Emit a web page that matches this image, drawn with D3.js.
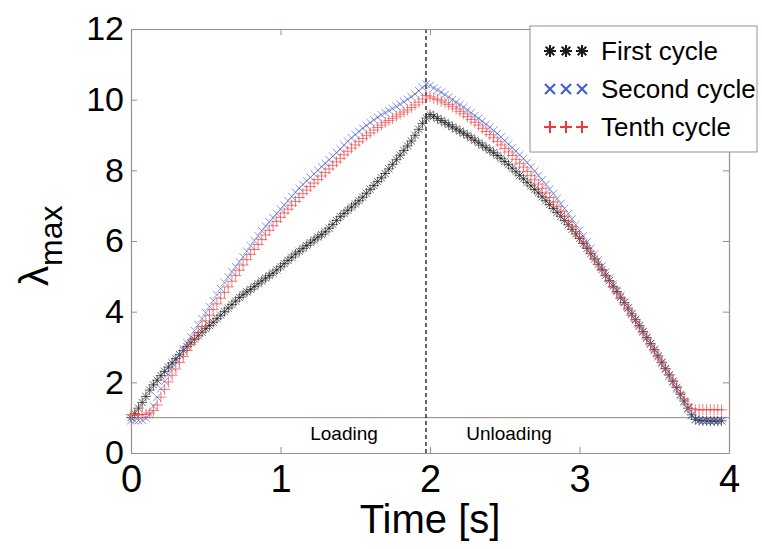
<!DOCTYPE html>
<html>
<head>
<meta charset="utf-8">
<script src="https://cdn.jsdelivr.net/npm/d3@7"></script>
<style>
  html, body { margin: 0; padding: 0; background: #fff; }
  svg { display: block; font-family: "Liberation Sans", Arial, sans-serif; }
</style>
</head>
<body>
<svg id="chart" width="762" height="549"></svg>
<script>
// ---------------- data ----------------
const times = [
  0,0.025,0.05,0.075,0.1,0.125,0.15,0.175,0.2,0.225,
  0.25,0.275,0.3,0.325,0.35,0.375,0.4,0.425,0.45,0.475,
  0.5,0.525,0.55,0.575,0.6,0.625,0.65,0.675,0.7,0.725,
  0.75,0.775,0.8,0.825,0.85,0.875,0.9,0.925,0.95,0.975,
  1,1.025,1.05,1.075,1.1,1.125,1.15,1.175,1.2,1.225,
  1.25,1.275,1.3,1.325,1.35,1.375,1.4,1.425,1.45,1.475,
  1.5,1.525,1.55,1.575,1.6,1.625,1.65,1.675,1.7,1.725,
  1.75,1.775,1.8,1.825,1.85,1.875,1.9,1.925,1.95,1.975,
  2,2.025,2.05,2.075,2.1,2.125,2.15,2.175,2.2,2.225,
  2.25,2.275,2.3,2.325,2.35,2.375,2.4,2.425,2.45,2.475,
  2.5,2.525,2.55,2.575,2.6,2.625,2.65,2.675,2.7,2.725,
  2.75,2.775,2.8,2.825,2.85,2.875,2.9,2.925,2.95,2.975,
  3,3.025,3.05,3.075,3.1,3.125,3.15,3.175,3.2,3.225,
  3.25,3.275,3.3,3.325,3.35,3.375,3.4,3.425,3.45,3.475,
  3.5,3.525,3.55,3.575,3.6,3.625,3.65,3.675,3.7,3.725,
  3.75,3.775,3.8,3.825,3.85,3.875,3.9,3.925,3.95
];
const firstCycle = [
  1.00,1.12,1.27,1.43,1.60,1.78,1.93,2.06,2.19,2.31,
  2.43,2.55,2.67,2.78,2.90,3.01,3.12,3.22,3.32,3.42,
  3.52,3.61,3.70,3.80,3.90,4.00,4.10,4.20,4.30,4.40,
  4.48,4.56,4.63,4.71,4.79,4.87,4.95,5.02,5.09,5.18,
  5.27,5.36,5.45,5.54,5.63,5.71,5.79,5.87,5.95,6.03,
  6.11,6.18,6.26,6.36,6.47,6.58,6.69,6.78,6.87,6.96,
  7.05,7.14,7.24,7.35,7.46,7.57,7.68,7.79,7.91,8.04,
  8.17,8.30,8.43,8.56,8.69,8.83,8.99,9.16,9.33,9.48,
  9.58,9.53,9.47,9.41,9.35,9.29,9.23,9.17,9.11,9.05,
  8.99,8.92,8.85,8.78,8.71,8.64,8.57,8.50,8.42,8.34,
  8.25,8.16,8.06,7.96,7.86,7.76,7.66,7.56,7.46,7.36,
  7.25,7.14,7.03,6.92,6.81,6.70,6.58,6.46,6.33,6.20,
  6.07,5.93,5.79,5.64,5.49,5.34,5.19,5.03,4.88,4.72,
  4.57,4.41,4.26,4.10,3.94,3.78,3.61,3.44,3.27,3.10,
  2.93,2.75,2.57,2.39,2.21,2.03,1.85,1.66,1.47,1.27,
  1.08,0.95,0.92,0.91,0.91,0.90,0.91,0.90,0.91
];
const secondCycle = [
  0.92,0.91,0.92,0.93,0.98,1.10,1.33,1.58,1.82,2.03,
  2.23,2.42,2.60,2.78,2.95,3.12,3.29,3.46,3.63,3.80,
  3.97,4.14,4.31,4.48,4.65,4.82,4.98,5.13,5.27,5.41,
  5.55,5.71,5.86,6.01,6.15,6.29,6.42,6.54,6.66,6.78,
  6.90,7.02,7.14,7.26,7.38,7.49,7.60,7.70,7.80,7.90,
  8.00,8.10,8.20,8.30,8.40,8.50,8.60,8.71,8.82,8.92,
  9.01,9.10,9.19,9.27,9.35,9.43,9.50,9.57,9.63,9.69,
  9.75,9.81,9.87,9.94,10.01,10.08,10.16,10.25,10.35,10.44,
  10.40,10.33,10.27,10.21,10.14,10.07,10.00,9.93,9.86,9.79,
  9.71,9.63,9.55,9.47,9.39,9.30,9.22,9.13,9.04,8.94,
  8.84,8.74,8.64,8.54,8.44,8.33,8.22,8.10,7.98,7.86,
  7.73,7.60,7.47,7.34,7.20,7.06,6.92,6.77,6.62,6.46,
  6.30,6.14,5.97,5.80,5.63,5.46,5.29,5.12,4.95,4.78,
  4.61,4.44,4.27,4.10,3.93,3.76,3.59,3.42,3.25,3.08,
  2.90,2.72,2.54,2.36,2.18,2.00,1.81,1.62,1.43,1.24,
  1.06,0.95,0.92,0.91,0.92,0.91,0.92,0.91,0.92
];
const tenthCycle = [
  1.08,1.07,1.08,1.09,1.10,1.13,1.20,1.36,1.58,1.80,
  2.01,2.20,2.38,2.56,2.73,2.90,3.07,3.24,3.41,3.58,
  3.74,3.90,4.06,4.22,4.38,4.54,4.70,4.86,5.02,5.17,
  5.32,5.47,5.62,5.76,5.90,6.04,6.17,6.30,6.43,6.55,
  6.67,6.79,6.90,7.01,7.12,7.23,7.34,7.44,7.54,7.64,
  7.74,7.84,7.94,8.04,8.14,8.24,8.34,8.44,8.54,8.63,
  8.72,8.81,8.90,8.98,9.06,9.14,9.21,9.28,9.35,9.41,
  9.47,9.53,9.59,9.65,9.71,9.78,9.85,9.93,10.02,10.12,
  10.08,10.04,10.00,9.96,9.91,9.86,9.80,9.74,9.67,9.60,
  9.52,9.44,9.36,9.28,9.19,9.10,9.01,8.92,8.82,8.72,
  8.62,8.52,8.42,8.31,8.20,8.09,7.97,7.85,7.73,7.61,
  7.49,7.36,7.23,7.10,6.97,6.84,6.70,6.56,6.42,6.27,
  6.12,5.97,5.81,5.65,5.49,5.33,5.17,5.01,4.85,4.69,
  4.53,4.37,4.21,4.05,3.89,3.73,3.57,3.40,3.23,3.06,
  2.89,2.72,2.55,2.38,2.21,2.04,1.87,1.70,1.53,1.38,
  1.26,1.22,1.22,1.23,1.22,1.23,1.22,1.23,1.22
];
const seriesNames = ["First cycle", "Second cycle", "Tenth cycle"];
const xTicks = [0, 1, 2, 3, 4];
const yTicks = [0, 2, 4, 6, 8, 10, 12];
const loadingEnd = 1.973;     // dashed separator (s)
const referenceLevel = 1;     // horizontal reference line
const phaseLabels = ["Loading", "Unloading"];

// ---------------- layout ----------------
const svg = d3.select("#chart");
svg.append("rect").attr("width", 762).attr("height", 549).attr("fill", "#fff");

const L = 131, R = 729, T = 29, B = 453;
const x = d3.scaleLinear().domain([0, 4]).range([L, R]);
const y = d3.scaleLinear().domain([0, 12]).range([B, T]);
const axisColor = "#a08c84";

// marker shapes
const plusPath = s => `M${-s},0H${s}M0,${-s}V${s}`;
const crossPath = s => `M${-s},${-s}L${s},${s}M${-s},${s}L${s},${-s}`;
const starPath = s => plusPath(s) + crossPath(s * 0.72);

const series = [
  { name: seriesNames[0], values: firstCycle, color: "#1a1a1a", shape: starPath, size: 5, width: 0.9, opacity: 0.75 },
  { name: seriesNames[1], values: secondCycle, color: "#4058cc", shape: crossPath, size: 3.8, width: 0.8, opacity: 0.8 },
  { name: seriesNames[2], values: tenthCycle, color: "#f03a3a", shape: plusPath, size: 5.5, width: 0.9, opacity: 0.75 }
];

// reference horizontal line at lambda = 1
svg.append("line")
  .attr("x1", L).attr("x2", R)
  .attr("y1", y(referenceLevel)).attr("y2", y(referenceLevel))
  .attr("stroke", "#9a7f76").attr("stroke-width", 1);

// dashed separator
svg.append("line")
  .attr("x1", x(loadingEnd)).attr("x2", x(loadingEnd))
  .attr("y1", T).attr("y2", B)
  .attr("stroke", "#3a3330").attr("stroke-width", 1.5)
  .attr("stroke-dasharray", "4,3");

// series markers
series.forEach(s => {
  const g = svg.append("g");
  g.selectAll("path")
    .data(times.map((t, i) => [t, s.values[i]]))
    .join("path")
    .attr("transform", d => `translate(${x(d[0])},${y(d[1])})`)
    .attr("d", s.shape(s.size))
    .attr("fill", "none")
    .attr("stroke", s.color)
    .attr("stroke-width", s.width)
    .attr("stroke-opacity", s.opacity);
});

// axes (ticks inside, box)
const tickLen = 6;
const gB = svg.append("g").attr("transform", `translate(0,${B})`)
  .call(d3.axisBottom(x).tickValues(xTicks).tickSizeInner(-tickLen).tickSizeOuter(0).tickPadding(12).tickFormat(d3.format("d")));
const gT = svg.append("g").attr("transform", `translate(0,${T})`)
  .call(d3.axisTop(x).tickValues(xTicks).tickSizeInner(-tickLen).tickSizeOuter(0).tickFormat(""));
const gL = svg.append("g").attr("transform", `translate(${L},0)`)
  .call(d3.axisLeft(y).tickValues(yTicks).tickSizeInner(-tickLen).tickSizeOuter(0).tickPadding(7).tickFormat(d3.format("d")));
const gR = svg.append("g").attr("transform", `translate(${R},0)`)
  .call(d3.axisRight(y).tickValues(yTicks).tickSizeInner(-tickLen).tickSizeOuter(0).tickFormat(""));

[gB, gT, gL, gR].forEach(g => {
  g.select(".domain").attr("stroke", axisColor).attr("stroke-width", 1.2);
  g.selectAll(".tick line").attr("stroke", axisColor).attr("stroke-width", 1);
});
gB.selectAll(".tick text").attr("font-size", 38).attr("fill", "#000")
  .attr("font-family", "Liberation Sans, Arial, sans-serif");
gL.selectAll(".tick text").attr("font-size", 34).attr("fill", "#000")
  .attr("font-family", "Liberation Sans, Arial, sans-serif");

// phase labels
svg.append("text").attr("x", 344).attr("y", 440).attr("text-anchor", "middle")
  .attr("font-size", 19).attr("fill", "#000").text(phaseLabels[0]);
svg.append("text").attr("x", 509).attr("y", 440).attr("text-anchor", "middle")
  .attr("font-size", 19).attr("fill", "#000").text(phaseLabels[1]);

// axis titles
svg.append("text").attr("x", (L + R) / 2).attr("y", 533).attr("text-anchor", "middle")
  .attr("font-size", 40).attr("fill", "#000").text("Time [s]");

const yTitle = svg.append("text")
  .attr("transform", "translate(48,286) rotate(-90)")
  .attr("font-size", 40).attr("fill", "#000");
yTitle.append("tspan").text("λ");
yTitle.append("tspan").attr("font-size", 32).attr("dy", 14).text("max");

// legend
const leg = svg.append("g");
leg.append("rect").attr("x", 530).attr("y", 26).attr("width", 227).attr("height", 126)
  .attr("fill", "#fff").attr("stroke", axisColor).attr("stroke-width", 1);
const legY = [51, 89, 127];
series.forEach((s, i) => {
  [550, 566, 582].forEach(cx => {
    leg.append("path")
      .attr("transform", `translate(${cx},${legY[i]})`)
      .attr("d", s.shape(i === 1 ? 5 : 6))
      .attr("fill", "none").attr("stroke", s.color).attr("stroke-width", 2);
  });
  leg.append("text").attr("x", 601).attr("y", legY[i] + 9)
    .attr("font-size", 26).attr("fill", "#000").text(s.name);
});
</script>
</body>
</html>
